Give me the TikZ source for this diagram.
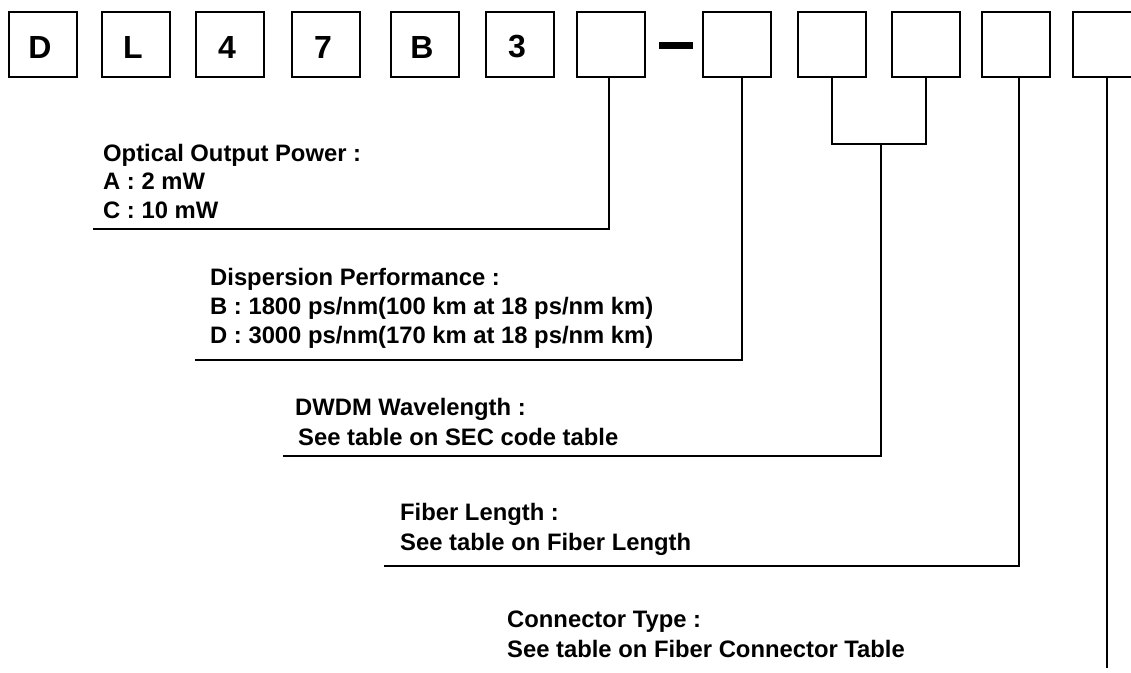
\documentclass[tikz,border=0pt]{standalone}
\usepackage{fontspec}
\setmainfont{Liberation Sans}
\begin{document}
\begin{tikzpicture}[x=1pt,y=-1pt,
  codebox/.style={draw, line width=2pt, minimum width=68pt, minimum height=65pt, inner sep=0pt},
  codeletter/.style={font=\fontsize{32}{36}\selectfont\bfseries, inner sep=0pt},
  lbl/.style={font=\fontsize{23.8}{28}\selectfont\bfseries, anchor=base west, inner sep=0pt},
  wire/.style={line width=2pt}]
\clip (0,0) rectangle (1131,672);
\fill[white] (0,0) rectangle (1131,672);
% boxes
\foreach \n/\l in {1/8,2/101,3/195,4/291,5/390,6/485,7/576,8/702,9/797,10/891,11/981,12/1072}
  \node[codebox] (b\n) at (\l+35,44.5) {};
\foreach \n/\t in {1/D,2/L,3/4,4/7,5/B,6/3}
  \node[codeletter] (t\n) at ([xshift=-3pt,yshift=-2.5pt]b\n.center) {\t};
% dash
\fill (659,42) rectangle (693,49);
% labels
\node[lbl] (o1) at (103,161) {Optical Output Power :};
\node[lbl] (o2) at (103,189.5) {A : 2 mW};
\node[lbl] (o3) at (103,218) {C : 10 mW};
\node[lbl] (d1) at (210,285) {Dispersion Performance :};
\node[lbl] (d2) at (210,314) {B : 1800 ps/nm(100 km at 18 ps/nm km)};
\node[lbl] (d3) at (210,343) {D : 3000 ps/nm(170 km at 18 ps/nm km)};
\node[lbl] (w1) at (295,415) {DWDM Wavelength :};
\node[lbl] (w2) at (298,445) {See table on SEC code table};
\node[lbl] (f1) at (400,520) {Fiber Length :};
\node[lbl] (f2) at (400,550) {See table on Fiber Length};
\node[lbl] (c1) at (507,627) {Connector Type :};
\node[lbl] (c2) at (507,657) {See table on Fiber Connector Table};
% connector end points
\coordinate (e1) at (93,229);
\coordinate (e2) at (195,360);
\coordinate (e3) at (283,456);
\coordinate (e4) at (384,566);
\coordinate (e5) at (1107,668);
\coordinate (j) at (881,144);
% connectors
\draw[wire] ([xshift=-2pt]b7.south) |- (e1);
\draw[wire] ([xshift=5pt]b8.south) |- (e2);
\draw[wire] (b9.south) |- (j) -| (b10.south);
\draw[wire] (j) |- (e3);
\draw[wire] ([xshift=3pt]b11.south) |- (e4);
\draw[wire] (b12.south) -- (b12.south |- e5);
\end{tikzpicture}
\end{document}
